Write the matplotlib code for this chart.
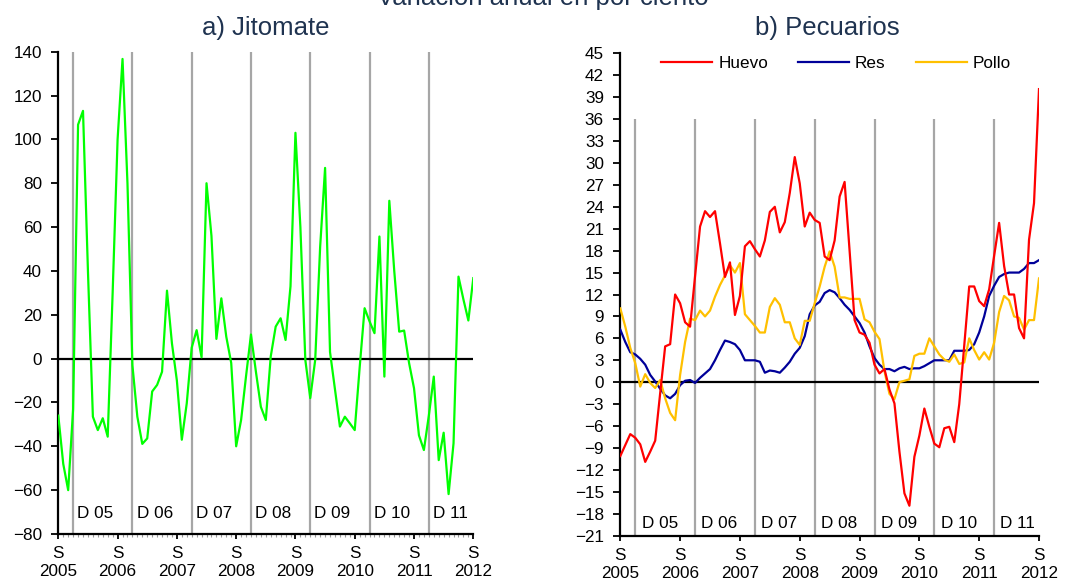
import matplotlib
matplotlib.use("Agg")
import matplotlib.pyplot as plt
import numpy as np

# ---------------- data ----------------
years = ["2005", "2006", "2007", "2008", "2009", "2010", "2011", "2012"]
dec_labels = ["D 05", "D 06", "D 07", "D 08", "D 09", "D 10", "D 11"]

jitomate = [-26, -48, -60, -23, 106.7, 113, 40, -26.5, -32.6, -27.2, -35.6, 30,
            100, 136.7, 80, -3, -26.5, -38.9, -36.4, -15, -12, -6, 31, 7,
            -10, -37, -20.4, 5, 13, 0.6, 80, 56, 9, 27.5, 10, -2,
            -40, -28, -8, 11, -6, -22, -28, 1, 14.6, 18.4, 8.5, 33,
            103, 60, -0.6, -18, -0.6, 51, 87, 3, -14, -31, -26.5, -29.5,
            -32.6, -4, 23, 17, 11.6, 55.7, -8.2, 72, 40, 12.3, 12.8, -2,
            -13.5, -35, -41.7, -26, -8.2, -46.3, -33.8, -61.8, -38.6, 37.4, 27, 17.4,
            36.7]

huevo = [-10.1, -8.6, -7.1, -7.6, -8.5, -10.9, -9.5, -8.0, -1.5, 4.9, 5.2, 12.0,
         10.8, 8.2, 7.6, 14.5, 21.3, 23.4, 22.6, 23.4, 19.0, 14.4, 16.4, 9.2,
         11.8, 18.6, 19.3, 18.2, 17.2, 19.4, 23.3, 24.0, 20.5, 21.9, 25.9, 30.8,
         27.2, 21.3, 23.2, 22.2, 21.8, 17.2, 16.7, 19.4, 25.4, 27.4, 18.0, 8.5,
         6.8, 6.5, 5.4, 2.4, 1.2, 1.8, -1.0, -2.9, -9.5, -15.2, -16.9, -10.2,
         -7.3, -3.6, -6.1, -8.4, -8.9, -6.3, -6.1, -8.2, -3.0, 5.0, 13.1, 13.1,
         11.1, 10.4, 12.7, 17.3, 21.8, 15.9, 12.0, 12.0, 7.4, 6.0, 19.5, 24.5,
         40.1]

res = [7.2, 5.5, 4.1, 3.8, 3.2, 2.4, 1.0, 0.1, -0.9, -1.8, -2.2, -1.6,
       -0.4, 0.2, 0.3, -0.1, 0.6, 1.2, 1.8, 3.0, 4.4, 5.7, 5.5, 5.2,
       4.4, 3.0, 3.0, 3.0, 2.8, 1.3, 1.6, 1.5, 1.3, 2.0, 2.8, 3.9,
       4.7, 6.3, 9.3, 10.5, 11.0, 12.2, 12.6, 12.3, 11.5, 10.6, 9.9, 9.0,
       8.1, 6.8, 4.9, 3.3, 2.4, 1.8, 1.8, 1.5, 1.9, 2.1, 1.8, 1.9,
       1.9, 2.2, 2.6, 3.0, 3.0, 3.0, 3.0, 4.3, 4.3, 4.3, 4.4, 5.2,
       6.8, 9.0, 11.8, 13.2, 14.4, 14.8, 15.0, 15.0, 15.0, 15.5, 16.3, 16.3,
       16.7]

pollo = [10.1, 7.6, 4.7, 2.6, -0.6, 1.1, -0.1, -0.8, 0.3, -2.2, -4.2, -5.2,
         1.0, 5.5, 8.7, 8.5, 9.8, 9.0, 9.8, 11.7, 13.3, 14.6, 16.0, 15.0,
         16.3, 9.3, 8.5, 7.7, 6.8, 6.8, 10.3, 11.5, 10.6, 8.2, 8.2, 6.0,
         5.1, 8.4, 8.4, 10.8, 13.1, 15.8, 17.9, 15.8, 11.6, 11.6, 11.4, 11.4,
         11.4, 8.6, 8.2, 6.9, 5.9, 1.5, -1.6, -2.3, 0.0, 0.2, 0.4, 3.6,
         3.9, 3.9, 6.0, 4.9, 3.8, 3.1, 2.8, 3.8, 2.5, 2.7, 6.0, 4.4,
         3.1, 4.1, 3.1, 5.4, 9.6, 11.8, 11.2, 9.0, 8.8, 7.2, 8.5, 8.5,
         14.2]

# ---------------- style ----------------
plt.rcParams['font.family'] = ['Liberation Sans', 'DejaVu Sans']
TITLE_COLOR = '#1F3350'
GRAY = '#A6A6A6'

W, H = 1078, 585
fig = plt.figure(figsize=(W / 100, H / 100), dpi=100)

def px_axes(l, r, t, b):
    return fig.add_axes([l / W, 1 - b / H, (r - l) / W, (b - t) / H])

axL = px_axes(58.3, 473.3, 51.7, 534.0)
axR = px_axes(620.3, 1039.0, 53.3, 535.7)

x = np.arange(len(jitomate))
month_ticks = np.arange(0, len(jitomate), 12)
dec_pos = np.arange(3, len(jitomate), 12)
xlabels = ["S\n" + y for y in years]

def base_axes(ax, ymin, ymax, ystep, ytop_gray, minor):
    ax.set_xlim(0, len(jitomate) - 1)
    ax.set_ylim(ymin, ymax)
    ax.set_yticks(np.arange(ymin, ymax + 0.1, ystep))
    ax.set_xticks(month_ticks)
    ax.set_xticklabels(xlabels, fontsize=12.3, linespacing=1.3)
    if minor:
        ax.set_xticks(x, minor=True)
        ax.tick_params(axis='x', which='minor', length=2.5, width=0.8,
                       color='#9A9A9A', direction='out')
    ax.tick_params(axis='y', labelsize=12.3, length=4.8, width=1.3, pad=7)
    ax.tick_params(axis='x', which='major', length=3.5, width=1.3, pad=5)
    for s in ['top', 'right']:
        ax.spines[s].set_visible(False)
    for s in ['left', 'bottom']:
        ax.spines[s].set_linewidth(1.6)
        ax.spines[s].set_color('black')
    for d in dec_pos:
        ax.plot([d, d], [ymin, ytop_gray], color=GRAY, lw=1.6, zorder=1,
                solid_capstyle='butt')
    ax.axhline(0, color='black', lw=1.6, zorder=2)
    ax.set_facecolor('white')

base_axes(axL, -80, 140, 20, 140, True)
axL.plot(x, jitomate, color='#00FF00', lw=1.6, zorder=3)
for d, lab in zip(dec_pos, dec_labels):
    axL.annotate(lab, xy=(d, -70.7), xytext=(3, 0), textcoords='offset points',
                 fontsize=12.3, va='center', ha='left', color='black')

base_axes(axR, -21, 45, 3, 36, False)
axR.plot(x, huevo, color='#FF0000', lw=1.6, zorder=4, label='Huevo')
axR.plot(x, res, color='#000099', lw=1.6, zorder=3, label='Res')
axR.plot(x, pollo, color='#FFC000', lw=1.6, zorder=3, label='Pollo')
for d, lab in zip(dec_pos, dec_labels):
    axR.annotate(lab, xy=(d, -19.3), xytext=(4.5, 0), textcoords='offset points',
                 fontsize=12.3, va='center', ha='left', color='black')

fig.legend(loc='center', bbox_to_anchor=(836 / W, 1 - 63.3 / H), ncol=3,
           frameon=False, fontsize=12.3, handlelength=3.0, handletextpad=0.35,
           columnspacing=1.75, borderpad=0)

# titles
fig.text(265.8 / W, 1 - 35 / H, "a) Jitomate", fontsize=18.5, color=TITLE_COLOR,
         ha='center', va='baseline')
fig.text(827 / W, 1 - 35 / H, "b) Pecuarios", fontsize=18.5, color=TITLE_COLOR,
         ha='center', va='baseline')
fig.text(543 / W, 1 - 4.5 / H, "Variación anual en por ciento", fontsize=18.5,
         color=TITLE_COLOR, ha='center', va='baseline')

fig.savefig("out.png", dpi=100, facecolor='white')
